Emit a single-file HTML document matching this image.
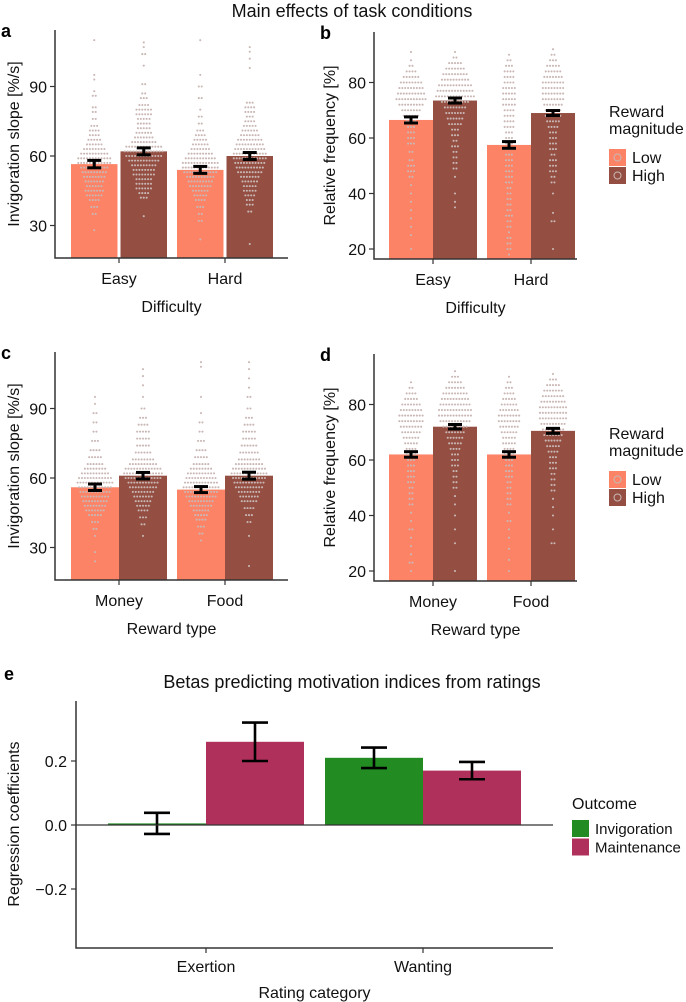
<!DOCTYPE html>
<html><head><meta charset="utf-8"><style>
html,body{margin:0;padding:0;background:#fff;}
svg{display:block;font-family:"Liberation Sans",sans-serif;}
</style></head><body>
<svg id="fig" width="686" height="1002" viewBox="0 0 686 1002" xmlns="http://www.w3.org/2000/svg">
<text x="352" y="17" font-size="18" text-anchor="middle" fill="#111">Main effects of task conditions</text>
</svg>
<script>
// ---- data ----
const catsDiff = ["Easy","Hard"];
const catsReward = ["Money","Food"];
const aLow = [56.5, 54]; const aHigh = [62, 60]; const aErrLow=[1.6,1.5]; const aErrHigh=[1.5,1.5];
const bLow = [66.5, 57.5]; const bHigh = [73.5, 69]; const bErrLow=[1.1,1.2]; const bErrHigh=[0.9,0.9];
const cLow = [56, 55]; const cHigh = [61, 61]; const cErrLow=[1.4,1.3]; const cErrHigh=[1.4,1.5];
const dLow = [62, 62]; const dHigh = [72, 70.5]; const dErrLow=[1.0,1.0]; const dErrHigh=[0.8,0.9];
const ticksA = [30,60,90]; const ticksB = [20,40,60,80];
const eCats = ["Exertion","Wanting"];
const eInvig = [0.005, 0.21]; const eMaint = [0.26, 0.17];
const eErrInvig = [0.033, 0.032]; const eErrMaint = [0.06, 0.027];
const ticksE = [-0.2, 0.0, 0.2];
// beeswarm bins [value, count]
const dotsAEL=[[110,1],[95,1],[93,1],[88,1],[86,2],[81,2],[79,2],[76,2],[73,3],[71,4],[69,4],[67,5],[65,6],[63,8],[61,10],[59,12],[57,12],[55,10],[53,9],[51,8],[49,7],[47,6],[45,7],[43,6],[41,4],[38,3],[35,2],[28,1]];
const dotsAEH=[[109,1],[107,1],[104,2],[99,1],[91,2],[87,2],[85,3],[82,4],[80,6],[78,6],[76,5],[74,5],[72,5],[70,6],[68,7],[66,9],[64,13],[62,14],[60,13],[58,11],[56,9],[54,8],[52,8],[50,6],[48,6],[46,6],[44,4],[42,3],[34,1]];
const dotsAHL=[[110,1],[95,1],[90,2],[85,2],[80,1],[77,2],[74,2],[71,3],[69,4],[67,5],[65,6],[63,7],[61,9],[59,11],[57,13],[55,13],[53,12],[51,10],[49,9],[47,8],[45,6],[43,5],[41,4],[38,3],[35,2],[32,2],[24,1]];
const dotsAHH=[[107,1],[105,1],[102,1],[98,1],[83,3],[81,4],[79,4],[77,3],[75,4],[73,5],[71,6],[69,7],[67,9],[65,10],[63,11],[61,12],[59,12],[57,11],[55,10],[53,9],[51,7],[49,6],[47,5],[45,5],[43,4],[41,3],[39,3],[36,2],[22,1]];
const dotsBEL=[[91,1],[88,1],[86,2],[84,4],[82,6],[80,8],[78,9],[76,10],[74,11],[72,9],[70,7],[68,6],[66,4],[64,3],[62,3],[60,3],[58,3],[55,2],[52,2],[50,3],[48,3],[46,2],[43,1],[40,1],[37,1],[34,1],[31,1],[28,1],[25,1],[20,1]];
const dotsBEH=[[91,1],[89,2],[87,5],[85,7],[83,9],[81,10],[79,12],[77,13],[75,14],[73,10],[71,8],[69,7],[67,6],[65,5],[63,3],[61,3],[59,2],[57,3],[55,2],[53,2],[51,2],[49,2],[46,1],[40,1],[37,1],[35,1]];
const dotsBHL=[[90,1],[88,2],[86,3],[84,4],[82,4],[80,4],[78,5],[76,5],[74,5],[72,5],[70,4],[68,4],[66,4],[64,4],[62,3],[60,3],[58,3],[56,3],[54,3],[52,3],[50,3],[48,3],[46,3],[44,3],[42,2],[40,2],[38,2],[36,2],[34,2],[32,3],[30,2],[28,2],[26,1],[24,2],[22,2],[20,2],[18,1]];
const dotsBHH=[[92,1],[90,2],[88,3],[86,5],[84,6],[82,7],[80,8],[78,8],[76,8],[74,8],[72,7],[70,6],[68,6],[66,5],[64,4],[62,3],[60,3],[58,3],[56,3],[54,2],[52,3],[50,3],[48,3],[46,2],[44,2],[40,1],[33,1],[30,2],[20,1]];
const dotsCML=[[95,1],[92,1],[88,2],[84,2],[80,2],[76,3],[72,4],[69,5],[66,6],[64,8],[62,10],[60,12],[58,13],[56,12],[54,11],[52,10],[50,9],[48,8],[46,7],[44,5],[41,3],[38,2],[35,1],[28,1],[24,1]];
const dotsCMH=[[107,1],[104,1],[100,1],[95,1],[90,2],[86,3],[83,4],[80,5],[77,5],[74,5],[71,6],[68,8],[66,10],[64,13],[62,14],[60,13],[58,11],[56,10],[54,8],[52,7],[50,6],[48,5],[46,4],[43,3],[40,2],[35,1]];
const dotsCFL=[[110,1],[108,1],[95,1],[88,1],[84,2],[80,2],[76,3],[72,4],[69,5],[66,6],[64,8],[62,10],[60,11],[58,12],[56,13],[54,12],[52,11],[50,9],[48,8],[46,6],[44,5],[42,4],[39,3],[36,2],[33,1]];
const dotsCFH=[[110,1],[107,1],[103,1],[99,1],[95,2],[90,2],[86,3],[83,4],[80,5],[77,5],[74,6],[71,7],[68,8],[66,10],[64,12],[62,13],[60,12],[58,11],[56,10],[54,8],[52,7],[50,6],[47,4],[44,3],[41,2],[35,1],[22,1]];
const dotsDML=[[88,1],[86,2],[84,4],[82,5],[80,7],[78,8],[76,9],[74,9],[72,8],[70,7],[68,6],[66,5],[64,4],[62,4],[60,3],[58,3],[56,3],[54,3],[52,3],[50,2],[48,2],[46,2],[44,2],[41,1],[38,1],[35,2],[32,1],[29,1],[26,1],[23,2],[20,1]];
const dotsDMH=[[92,1],[90,3],[88,5],[86,7],[84,9],[82,10],[80,11],[78,12],[76,12],[74,11],[72,9],[70,7],[68,6],[66,5],[64,4],[62,3],[60,3],[58,3],[56,2],[54,2],[52,2],[50,2],[47,1],[44,1],[40,1],[35,1],[30,1],[20,1]];
const dotsDFL=[[90,1],[88,2],[86,3],[84,4],[82,5],[80,6],[78,7],[76,8],[74,8],[72,7],[70,6],[68,5],[66,5],[64,4],[62,4],[60,3],[58,3],[56,3],[54,3],[52,2],[50,2],[48,2],[46,2],[44,2],[41,1],[38,2],[35,1],[32,1],[28,1],[24,1],[20,1]];
const dotsDFH=[[91,1],[89,3],[87,5],[85,7],[83,8],[81,9],[79,10],[77,10],[75,10],[73,9],[71,8],[69,7],[67,6],[65,5],[63,4],[61,3],[59,3],[57,3],[55,2],[53,2],[51,2],[49,2],[46,1],[43,1],[40,1],[35,1],[30,2]];

// ---- drawing ----
const NS="http://www.w3.org/2000/svg";
const svg=document.getElementById('fig');
function mk(tag,attrs,parent,txt){const e=document.createElementNS(NS,tag);for(const k in attrs)e.setAttribute(k,attrs[k]);if(txt!==undefined)e.textContent=txt;(parent||svg).appendChild(e);return e;}
const LOW="#fd8366", HIGH="#944f42", DOT="#c9b7b5";
const FS=16;

function panel(cfg){
  const g=mk('g',{});
  
  
  const y=v=>cfg.yRef-(v-cfg.vRef)*cfg.pxPer;
  cfg.cats.forEach((c,i)=>{
    const cx=cfg.centers[i];
    [[cfg.low,LOW,-1,cfg.dotsLow[i],cfg.errLow],[cfg.high,HIGH,1,cfg.dotsHigh[i],cfg.errHigh]].forEach(([vals,col,side,dots,errs],k)=>{
      const x0=side<0?cx-cfg.hw:cx+cfg.gap, x1=side<0?cx-cfg.gap:cx+cfg.hw;
      const top=y(vals[i]);
      const r=mk('rect',{x:x0,y:top,width:x1-x0,height:cfg.bottom-top,fill:col},g);
      
      
      const mid=(x0+x1)/2;
      dots.forEach(([v,n])=>{
        if(v<cfg.vMin) return;
        for(let j=0;j<n;j++){
          const dx=(j-(n-1)/2)*2.9;
          const d=mk('circle',{cx:mid+dx,cy:y(v),r:1.05,fill:DOT},g);
          
          
        }
      });
      const eb=mk('g',{stroke:'#000','stroke-width':3,fill:'none'},g);
      
      
      const e=errs[i];
      mk('line',{x1:mid,x2:mid,y1:y(vals[i]+e),y2:y(vals[i]-e)},eb);
      mk('line',{x1:mid-7,x2:mid+7,y1:y(vals[i]+e),y2:y(vals[i]+e)},eb);
      mk('line',{x1:mid-7,x2:mid+7,y1:y(vals[i]-e),y2:y(vals[i]-e)},eb);
    });
    mk('line',{x1:cx,x2:cx,y1:cfg.bottom,y2:cfg.bottom+5,stroke:'#333','stroke-width':1.2},g);
    const lbl=mk('text',{x:cx,y:cfg.bottom+26,'font-size':FS,'text-anchor':'middle',fill:'#111'},g,c);
    
    
  });
  const ax=mk('path',{d:`M${cfg.ax} ${cfg.top} V${cfg.bottom} H${cfg.axR}`,stroke:'#333','stroke-width':1.5,fill:'none'},g);
  
  
  cfg.ticks.forEach(v=>{
    mk('line',{x1:cfg.ax-5,x2:cfg.ax,y1:y(v),y2:y(v),stroke:'#333','stroke-width':1.2},g);
    const tl=mk('text',{x:cfg.ax-8,y:y(v)+6,'font-size':FS,'text-anchor':'end',fill:'#111'},g,String(v));
    
    
  });
  const yt=mk('text',{x:0,y:0,'font-size':FS,'text-anchor':'middle',fill:'#111',transform:`translate(${cfg.ytx},${(cfg.top+cfg.bottom)/2}) rotate(-90)`},g,cfg.ytitle);
  
  
  const xt=mk('text',{x:(cfg.ax+cfg.axR)/2,y:cfg.bottom+54,'font-size':FS,'text-anchor':'middle',fill:'#111'},g,cfg.xtitle);
  
  
  const pl=mk('text',{x:cfg.letterX,y:cfg.top+7,'font-size':18,'font-weight':'bold',fill:'#000'},g,cfg.letter);
  
  
}
function legend(x,y){
  const g=mk('g',{});
  
  
  mk('text',{x:x,y:y,'font-size':FS,fill:'#111'},g,'Reward');
  mk('text',{x:x,y:y+17,'font-size':FS,fill:'#111'},g,'magnitude');
  [['Low',LOW],['High',HIGH]].forEach(([l,c],i)=>{
    const ky=y+32+i*18;
    const e=mk('g',{},g);
    
    
    mk('rect',{x:x,y:ky,width:17,height:17,fill:c},e);
    mk('circle',{cx:x+8.5,cy:ky+8.5,r:3.5,fill:'none',stroke:DOT,'stroke-width':1},e);
    mk('text',{x:x+23,y:ky+14,'font-size':FS,fill:'#111'},e,l);
  });
}
const A={yRef:156,vRef:60,pxPer:69.5/30,vMin:16,top:30,bottom:258,ax:55,axR:288,centers:[119,225],hw:48,gap:1.5,ticks:ticksA,ytx:19,ytitle:'Invigoration slope [%/s]',letterX:1};
const B={yRef:138,vRef:60,pxPer:55.5/20,vMin:16.5,top:32,bottom:259,ax:374,axR:577,centers:[433,531],hw:44,gap:0,ticks:ticksB,ytx:335,ytitle:'Relative frequency [%]',letterX:320};
panel(Object.assign({},A,{name:'panel-a',cats:catsDiff,low:aLow,high:aHigh,errLow:aErrLow,errHigh:aErrHigh,dotsLow:[dotsAEL,dotsAHL],dotsHigh:[dotsAEH,dotsAHH],xtitle:'Difficulty',letter:'a'}));
panel(Object.assign({},B,{name:'panel-b',cats:catsDiff,low:bLow,high:bHigh,errLow:bErrLow,errHigh:bErrHigh,dotsLow:[dotsBEL,dotsBHL],dotsHigh:[dotsBEH,dotsBHH],xtitle:'Difficulty',letter:'b'}));
panel(Object.assign({},A,{name:'panel-c',yRef:478,top:352,bottom:580,gap:0,cats:catsReward,low:cLow,high:cHigh,errLow:cErrLow,errHigh:cErrHigh,dotsLow:[dotsCML,dotsCFL],dotsHigh:[dotsCMH,dotsCFH],xtitle:'Reward type',letter:'c'}));
panel(Object.assign({},B,{name:'panel-d',yRef:460,top:354,bottom:581,cats:catsReward,low:dLow,high:dHigh,errLow:dErrLow,errHigh:dErrHigh,dotsLow:[dotsDML,dotsDFL],dotsHigh:[dotsDMH,dotsDFH],xtitle:'Reward type',letter:'d'}));
legend(609,117);
legend(609,439);

// ---- panel e ----
(function(){
  const g=mk('g',{});
  
  
  const top=701,bottom=948,ax=76,axR=553;
  const y=v=>825-v*320;
  const centers=[206,423], hw=98;
  const cols=["#228b22","#b0305c"];
  eCats.forEach((c,i)=>{
    const cx=centers[i];
    [[eInvig,eErrInvig,cx-hw,cx,0],[eMaint,eErrMaint,cx,cx+hw,1]].forEach(([vals,errs,x0,x1,k])=>{
      const v=vals[i];
      const r=mk('rect',{x:x0,y:Math.min(y(v),y(0)),width:x1-x0,height:Math.max(Math.abs(y(v)-y(0)),1),fill:cols[k]},g);
      
      
      const mid=(x0+x1)/2, e=errs[i];
      const eb=mk('g',{stroke:'#000','stroke-width':2.6,fill:'none'},g);
      
      
      mk('line',{x1:mid,x2:mid,y1:y(v+e),y2:y(v-e)},eb);
      mk('line',{x1:mid-13,x2:mid+13,y1:y(v+e),y2:y(v+e)},eb);
      mk('line',{x1:mid-13,x2:mid+13,y1:y(v-e),y2:y(v-e)},eb);
    });
    mk('line',{x1:cx,x2:cx,y1:bottom,y2:bottom+5,stroke:'#333','stroke-width':1.2},g);
    const l=mk('text',{x:cx,y:bottom+24,'font-size':FS,'text-anchor':'middle',fill:'#111'},g,c);
    
    
  });
  const z=mk('line',{x1:ax,x2:axR,y1:y(0),y2:y(0),stroke:'#333','stroke-width':1.3},g);
  
  
  const a=mk('path',{d:`M${ax} ${top} V${bottom} H${axR}`,stroke:'#333','stroke-width':1.5,fill:'none'},g);
  
  
  ticksE.forEach(v=>{
    mk('line',{x1:ax-5,x2:ax,y1:y(v),y2:y(v),stroke:'#333','stroke-width':1.2},g);
    const t=mk('text',{x:ax-9,y:y(v)+6,'font-size':FS,'text-anchor':'end',fill:'#111'},g,(v<0?'\u2212':'')+Math.abs(v).toFixed(1));
    
    
  });
  const yt=mk('text',{x:0,y:0,'font-size':FS,'text-anchor':'middle',fill:'#111',transform:`translate(19,824) rotate(-90)`},g,'Regression coefficients');
  
  
  const xt=mk('text',{x:(ax+axR)/2,y:998,'font-size':FS,'text-anchor':'middle',fill:'#111'},g,'Rating category');
  
  
  const tt=mk('text',{x:352,y:688,'font-size':18,'text-anchor':'middle',fill:'#111'},g,'Betas predicting motivation indices from ratings');
  
  
  const pl=mk('text',{x:4,y:680,'font-size':18,'font-weight':'bold',fill:'#000'},g,'e');
  
  
  const lg=mk('g',{},g);
  
  
  mk('text',{x:572,y:809,'font-size':FS,fill:'#111'},lg,'Outcome');
  [['Invigoration',cols[0]],['Maintenance',cols[1]]].forEach(([l,c],i)=>{
    const ky=820+i*18.5;
    const e=mk('g',{},lg);
    
    
    mk('rect',{x:572,y:ky,width:17,height:17,fill:c},e);
    mk('text',{x:595,y:ky+14,'font-size':15,fill:'#111'},e,l);
  });
})();
</script>
</body></html>
